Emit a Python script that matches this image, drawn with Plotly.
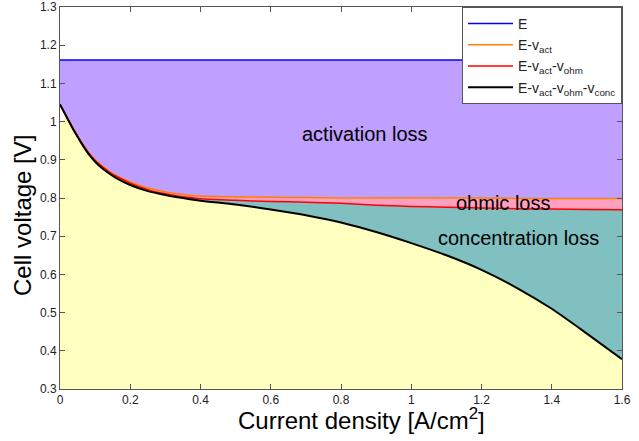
import plotly.graph_objects as go

# Current density [A/cm^2]
current = [0, 0.02, 0.04, 0.06, 0.08, 0.1, 0.12, 0.14, 0.16, 0.2, 0.25, 0.3, 0.35, 0.4,
           0.5, 0.6, 0.7, 0.8, 0.9, 1.0, 1.1, 1.2, 1.3, 1.4, 1.5, 1.6]

# Open circuit voltage E
E_val = 1.161
E_line = [E_val] * len(current)

# E - v_act
v_act_curve = [1.045, 1.011, 0.978, 0.948, 0.921, 0.900, 0.884, 0.870, 0.859, 0.842,
               0.826, 0.816, 0.809, 0.805, 0.803, 0.802, 0.801, 0.800, 0.800, 0.800,
               0.800, 0.800, 0.799, 0.799, 0.799, 0.799]

# E - v_act - v_ohm
v_ohm_curve = [1.045, 1.011, 0.977, 0.947, 0.920, 0.898, 0.882, 0.868, 0.857, 0.839,
               0.822, 0.811, 0.803, 0.798, 0.794, 0.791, 0.789, 0.786, 0.781, 0.778,
               0.776, 0.774, 0.772, 0.771, 0.770, 0.769]

# E - v_act - v_ohm - v_conc
v_conc_curve = [1.045, 1.010, 0.976, 0.945, 0.917, 0.895, 0.878, 0.864, 0.852, 0.834,
                0.818, 0.808, 0.800, 0.793, 0.783, 0.770, 0.755, 0.736, 0.711, 0.682,
                0.650, 0.612, 0.565, 0.510, 0.445, 0.378]

# lower edge of the yellow region starts slightly below the curve at i = 0
yellow_start = 1.0

x_ticks = [0, 0.2, 0.4, 0.6, 0.8, 1, 1.2, 1.4, 1.6]
y_ticks = [0.3, 0.4, 0.5, 0.6, 0.7, 0.8, 0.9, 1, 1.1, 1.2, 1.3]

labels = ["activation loss", "ohmic loss", "concentration loss"]
label_x = [0.868, 1.26, 1.305]
label_y = [0.967, 0.787, 0.695]

x_title = "Current density [A/cm<sup>2</sup>]"
y_title = "Cell voltage [V]"

YELLOW = "#FFFFC0"
TEAL = "#80C0C0"
PINK = "#FFA0C0"
PURPLE = "#BF9FFF"
FONT = "Liberation Sans"

fig = go.Figure()

# fills (no lines)
fig.add_trace(go.Scatter(x=current, y=[yellow_start] + v_conc_curve[1:], mode="lines",
                         line=dict(width=0), fill="tozeroy", fillcolor=YELLOW,
                         showlegend=False, hoverinfo="skip"))
fig.add_trace(go.Scatter(x=current, y=v_conc_curve, mode="lines", line=dict(width=0),
                         showlegend=False, hoverinfo="skip"))
fig.add_trace(go.Scatter(x=current, y=v_ohm_curve, mode="lines", line=dict(width=0),
                         fill="tonexty", fillcolor=TEAL, showlegend=False, hoverinfo="skip"))
fig.add_trace(go.Scatter(x=current, y=v_act_curve, mode="lines", line=dict(width=0),
                         fill="tonexty", fillcolor=PINK, showlegend=False, hoverinfo="skip"))
fig.add_trace(go.Scatter(x=current, y=E_line, mode="lines", line=dict(width=0),
                         fill="tonexty", fillcolor=PURPLE, showlegend=False, hoverinfo="skip"))

# lines
fig.add_trace(go.Scatter(x=current, y=E_line, mode="lines", name="E",
                         line=dict(color="#0000FF", width=1.5)))
fig.add_trace(go.Scatter(x=current, y=v_act_curve, mode="lines", name="E-v<sub>act</sub>",
                         line=dict(color="#FF8000", width=1.5, shape="spline", smoothing=0.6)))
fig.add_trace(go.Scatter(x=current, y=v_ohm_curve, mode="lines",
                         name="E-v<sub>act</sub>-v<sub>ohm</sub>",
                         line=dict(color="#FF0000", width=1.5, shape="spline", smoothing=0.6)))
fig.add_trace(go.Scatter(x=current, y=v_conc_curve, mode="lines",
                         name="E-v<sub>act</sub>-v<sub>ohm</sub>-v<sub>conc</sub>",
                         line=dict(color="#000000", width=2, shape="spline", smoothing=0.6)))

for t, xx, yy in zip(labels, label_x, label_y):
    fig.add_annotation(x=xx, y=yy, text=t, showarrow=False,
                       font=dict(size=20, color="#000000", family=FONT))

# axis titles (placed as in the reference, slightly off-centre)
fig.add_annotation(xref="paper", yref="paper", x=0.537, y=-0.123, xanchor="center",
                   yanchor="bottom", text=x_title, showarrow=False,
                   font=dict(size=24, color="#000000", family=FONT))
fig.add_annotation(xref="paper", yref="paper", x=-0.068, y=0.455, xanchor="center",
                   yanchor="middle", textangle=-90, text=y_title, showarrow=False,
                   font=dict(size=24, color="#000000", family=FONT))

axis_common = dict(showline=True, linecolor="#555555", linewidth=1, mirror="ticks",
                   ticks="inside", ticklen=5, tickcolor="#555555", showgrid=False,
                   zeroline=False, automargin=False,
                   tickfont=dict(size=12, color="#222222", family=FONT))

fig.update_xaxes(range=[0, 1.6], tickvals=x_ticks, ticktext=[str(v) for v in x_ticks],
                 **axis_common)
fig.update_yaxes(range=[0.3, 1.3], tickvals=y_ticks, ticktext=[str(v) for v in y_ticks],
                 **axis_common)

fig.update_layout(
    width=639, height=441,
    margin=dict(l=60, r=17, t=7, b=52),
    paper_bgcolor="white", plot_bgcolor="white",
    font=dict(family=FONT),
    legend=dict(x=1, y=1, xanchor="right", yanchor="top", bgcolor="white",
                bordercolor="#555555", borderwidth=1, traceorder="normal",
                font=dict(size=14, color="#222222", family=FONT),
                tracegroupgap=0, itemwidth=45),
    showlegend=True,
)

fig.write_html("out.html")
